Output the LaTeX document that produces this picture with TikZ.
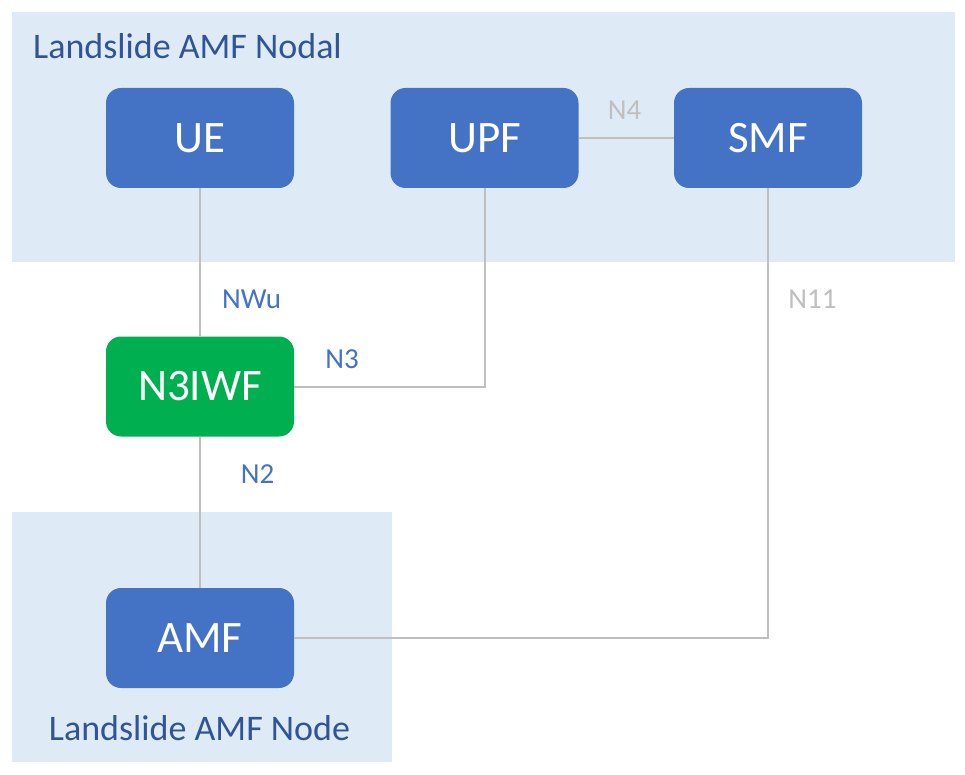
\documentclass[tikz,border=0pt]{standalone}
\usepackage{fontspec}
\setmainfont{Carlito}
\definecolor{panel}{HTML}{DEEBF7}
\definecolor{boxblue}{HTML}{4472C4}
\definecolor{boxgreen}{HTML}{00B050}
\definecolor{titleblue}{HTML}{2F5597}
\definecolor{linegray}{HTML}{BFBFBF}
\tikzset{
  nf/.style={rounded corners=15pt, minimum width=188pt, minimum height=100pt, inner sep=0pt,
             text=white, font=\fontsize{45}{54}\selectfont, fill=boxblue},
  nfgreen/.style={nf, fill=boxgreen},
  panelbox/.style={fill=panel, draw=none},
  paneltitle/.style={anchor=base, inner sep=0pt, text=titleblue, font=\fontsize{36}{43}\selectfont},
  iflabel/.style={anchor=base, inner sep=0pt, text=boxblue, font=\fontsize{29}{35}\selectfont},
  iflabelgray/.style={iflabel, text=linegray},
  link/.style={draw=linegray, line width=2pt}
}
\begin{document}
\begin{tikzpicture}[x=1pt,y=-1pt]
\useasboundingbox (0,0) rectangle (965,775);
\fill[white] (0,0) rectangle (965,775);
% panels
\path[panelbox] (12,12) rectangle (955,262);
\path[panelbox] (12,512) rectangle (392,762);
\node[paneltitle] (t1) at (187.5,59) {Landslide AMF Nodal};
\node[paneltitle] (t2) at (199.5,740) {Landslide AMF Node};
% nodes
\node[nf] (ue) at (200,138) {UE};
\node[nf] (upf) at (484.5,138) {UPF};
\node[nf] (smf) at (768,138) {SMF};
\node[nfgreen] (n3iwf) at (200,386.5) {N3IWF};
\node[nf] (amf) at (200,638) {AMF};
% connectors
\coordinate (c1) at (484.5,386.5);
\coordinate (c2) at (768,638);
\draw[link] (ue.south) -- (n3iwf.north);
\draw[link] (n3iwf.south) -- (amf.north);
\draw[link] (upf.east) -- (smf.west);
\draw[link] (upf.south) -- (c1) -- (n3iwf.east);
\draw[link] (smf.south) -- (c2) -- (amf.east);
% labels
\node[iflabel] (lnwu) at (251.5,308) {NWu};
\node[iflabel] (ln3) at (342,368) {N3};
\node[iflabel] (ln2) at (257.5,483) {N2};
\node[iflabelgray] (ln4) at (624.5,120) {N4};
\node[iflabelgray] (ln11) at (812.5,308) {N11};
\end{tikzpicture}
\end{document}
